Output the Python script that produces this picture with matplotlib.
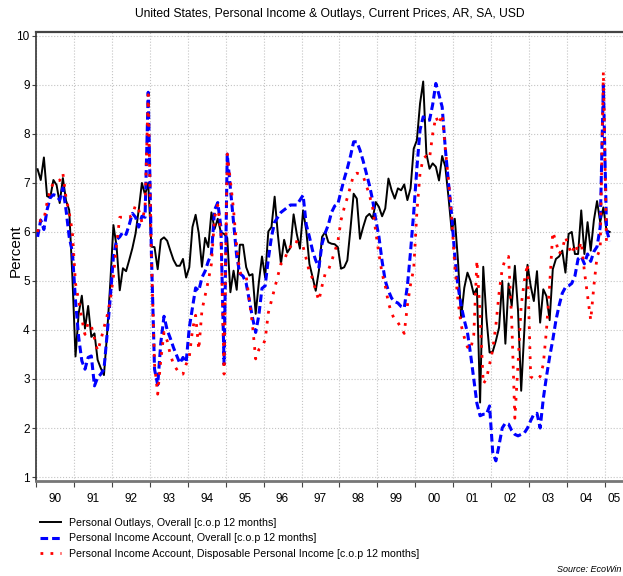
import numpy as np
import matplotlib
matplotlib.use('Agg')
import matplotlib.pyplot as plt

# monthly data, Jan 1990 onwards (% change on same month a year earlier)
start_year = 1990

outlays = [
    7.28, 7.06, 7.52, 6.73, 6.70, 7.06, 6.96, 6.59, 7.10, 6.64, 6.45, 5.10,
    3.46, 4.34, 4.70, 4.03, 4.49, 3.86, 3.93, 3.39, 3.22, 3.08, 3.93, 4.96,
    6.14, 5.70, 4.81, 5.26, 5.20, 5.43, 5.67, 5.97, 6.45, 7.00, 6.76, 7.00,
    5.70, 5.69, 5.24, 5.84, 5.89, 5.82, 5.62, 5.43, 5.31, 5.31, 5.45, 5.07,
    5.28, 6.10, 6.35, 5.97, 5.29, 5.88, 5.69, 6.40, 6.06, 6.27, 5.99, 5.96,
    5.88, 4.77, 5.21, 4.82, 5.74, 5.74, 5.28, 5.11, 5.14, 4.33, 4.97, 5.50,
    5.07, 6.01, 6.10, 6.72, 5.96, 5.35, 5.84, 5.58, 5.68, 6.36, 5.96, 5.66,
    6.44, 6.03, 5.35, 5.08, 4.80, 5.21, 5.90, 6.00, 5.79, 5.76, 5.75, 5.69,
    5.25, 5.28, 5.42, 6.07, 6.78, 6.68, 5.86, 6.10, 6.31, 6.37, 6.27, 6.61,
    6.51, 6.32, 6.48, 7.09, 6.85, 6.68, 6.89, 6.85, 6.97, 6.65, 6.89, 7.70,
    7.87, 8.62, 9.07, 7.60, 7.29, 7.40, 7.33, 7.05, 7.55, 7.33, 6.71, 6.03,
    6.27, 5.42, 4.25, 4.86, 5.17, 5.00, 4.73, 4.85, 2.52, 5.29, 4.25, 3.54,
    3.56, 3.78, 4.05, 5.00, 3.72, 4.95, 4.49, 5.31, 4.40, 2.76, 4.00, 5.33,
    4.90, 4.59, 5.20, 4.15, 4.83, 4.69, 4.20, 5.24, 5.45, 5.50, 5.62, 5.17,
    5.96, 6.00, 5.55, 5.55, 6.44, 5.55, 6.20, 5.62, 6.24, 6.63, 6.20, 6.50,
    6.03, 6.00,
]

income = [
    5.90, 6.24, 6.05, 6.45, 6.70, 6.76, 6.74, 6.65, 6.90, 6.45, 5.90, 5.60,
    4.60, 3.85, 3.37, 3.20, 3.44, 3.47, 2.86, 3.03, 3.10, 3.20, 3.91, 4.66,
    5.50, 5.84, 5.90, 6.00, 5.95, 6.15, 6.38, 6.30, 6.10, 6.32, 6.30, 8.85,
    5.60, 3.20, 2.88, 3.75, 4.28, 4.00, 3.83, 3.64, 3.48, 3.32, 3.44, 3.34,
    4.05, 4.46, 4.86, 4.80, 5.07, 5.20, 5.40, 5.55, 6.45, 6.60, 6.10, 3.30,
    7.59, 6.90, 6.20, 5.50, 5.15, 5.10, 4.95, 4.60, 4.25, 3.95, 4.30, 4.85,
    4.90, 5.45, 5.90, 6.20, 6.30, 6.40, 6.45, 6.50, 6.55, 6.55, 6.55, 6.65,
    6.75, 6.15, 5.90, 5.62, 5.42, 5.28, 5.76, 5.98, 6.15, 6.40, 6.53, 6.57,
    6.83, 7.08, 7.30, 7.55, 7.84, 7.84, 7.67, 7.45, 7.20, 6.95, 6.65, 6.25,
    5.90, 5.40, 5.00, 4.80, 4.65, 4.58, 4.55, 4.48, 4.45, 4.90, 5.60, 6.40,
    7.30, 8.08, 8.35, 8.30, 8.28, 8.60, 9.03, 8.80, 8.55, 7.70, 7.00, 6.35,
    5.50, 4.90, 4.50, 4.20, 3.95, 3.50, 3.00, 2.50, 2.25, 2.28, 2.28, 2.45,
    1.50, 1.33, 1.65, 2.00, 2.10, 2.08, 1.95, 1.87, 1.84, 1.87, 1.90, 2.00,
    2.15, 2.28, 2.30, 2.00, 2.60, 3.05, 3.45, 3.80, 4.20, 4.50, 4.75, 4.87,
    4.90, 4.95, 5.10, 5.45, 5.50, 5.35, 5.55, 5.40, 5.60, 5.70, 6.10, 9.00,
    6.05, 5.81,
]

disposable = [
    6.00, 6.25, 6.25, 6.60, 6.85, 7.00, 7.05, 7.05, 7.20, 6.70, 6.40, 6.00,
    4.95, 4.60, 4.22, 3.91, 4.15, 4.08, 3.83, 3.57, 3.79, 4.05, 4.29, 4.60,
    5.10, 5.75, 6.30, 6.30, 6.30, 6.30, 6.35, 6.55, 6.45, 6.20, 6.50, 8.80,
    5.50, 3.30, 2.69, 3.40, 3.95, 3.78, 3.50, 3.30, 3.20, 3.10, 3.10, 3.30,
    3.45, 4.00, 4.30, 3.60, 4.40, 4.70, 5.00, 5.35, 6.30, 6.55, 6.00, 3.10,
    7.59, 7.05, 6.45, 5.70, 5.16, 5.16, 5.10, 4.60, 4.10, 3.41, 3.60, 3.65,
    3.80, 4.35, 4.60, 4.85, 5.10, 5.35, 5.40, 5.60, 5.70, 5.82, 5.80, 5.75,
    5.70, 5.45, 5.18, 5.05, 4.80, 4.60, 4.90, 5.15, 5.22, 5.40, 5.60, 5.80,
    6.24, 6.49, 6.70, 6.93, 7.17, 7.20, 7.18, 7.14, 6.95, 6.75, 6.50, 6.00,
    5.55, 5.15, 4.90, 4.55, 4.35, 4.20, 4.15, 4.05, 3.93, 4.50, 4.93, 5.25,
    6.40, 7.20, 7.50, 7.55, 7.50, 8.00, 8.35, 8.20, 8.40, 7.70, 7.05, 6.30,
    5.30, 4.60, 4.10, 3.85, 3.65, 3.60, 3.90, 5.42, 4.30, 2.90, 3.00, 3.30,
    3.60, 4.10, 4.75, 5.25, 5.45, 5.50, 4.20, 2.20, 3.30, 4.50, 5.00, 5.35,
    3.05, 3.00, 3.00, 3.05, 3.30, 4.00, 4.90, 6.00, 5.80, 5.55, 5.65, 5.90,
    5.70, 5.55, 5.75, 5.60, 5.80, 5.20, 4.70, 4.20, 4.90, 5.50, 5.65, 9.27,
    5.70,
]

year_labels = ['90', '91', '92', '93', '94', '95', '96', '97', '98', '99',
               '00', '01', '02', '03', '04', '05']
series_names = [
    'Personal Outlays, Overall [c.o.p 12 months]',
    'Personal Income Account, Overall [c.o.p 12 months]',
    'Personal Income Account, Disposable Personal Income [c.o.p 12 months]',
]
title = 'United States, Personal Income & Outlays, Current Prices, AR, SA, USD'

plt.rcParams['font.family'] = ['Liberation Sans Narrow', 'Liberation Sans', 'DejaVu Sans']


def month_axis(vals):
    # points sit in the middle of each month
    return start_year + (np.arange(len(vals)) + 0.5) / 12


W, H = 623, 576
fig = plt.figure(figsize=(W / 100, H / 100), dpi=100)
ax = fig.add_axes([36 / W, 1 - 480.7 / H, 1 - 36 / W, (480.7 - 31.5) / H])

l1, = ax.plot(month_axis(outlays), outlays, color='black', lw=1.4, zorder=3)
l2, = ax.plot(month_axis(income), income, color='#0000ff', lw=2.2,
              linestyle=(0, (2.5, 1.3)), dash_capstyle='butt', zorder=4)
l3, = ax.plot(month_axis(disposable), disposable, color='#ff0000', lw=2.0,
              linestyle=(0, (1, 2.6)), dash_capstyle='butt', zorder=5)

xmax = 2005.476
ax.set_xlim(start_year, xmax)
ax.set_ylim(0.925, 10.09)

years = np.arange(start_year, 2006)
ax.set_xticks(years)
ax.set_xticklabels([])
mids = [y + 0.5 for y in years[:-1]] + [(years[-1] + xmax) / 2]
ax.set_xticks(mids, minor=True)
ax.set_xticklabels(year_labels, minor=True)
ax.tick_params(axis='x', which='major', length=4, width=0.8, color='#444444')
ax.tick_params(axis='x', which='minor', length=0, pad=8.5, labelsize=8.5)

ax.set_yticks(range(1, 11))
ax.tick_params(axis='y', length=3, width=0.8, pad=1.5, labelsize=8.5, color='#444444')

ax.grid(True, which='major', linestyle=':', color='#c4c4c4', lw=0.8)
ax.set_axisbelow(True)

ax.spines['right'].set_visible(False)
ax.spines['left'].set_color('#333333')
ax.spines['left'].set_linewidth(1.2)
ax.spines['top'].set_color('#444444')
ax.spines['top'].set_linewidth(1.6)
ax.spines['bottom'].set_color('#777777')
ax.spines['bottom'].set_linewidth(2.0)

fig.text(330 / W, 1 - 14 / H, title, ha='center', va='center', fontsize=8.7)
fig.text(16 / W, 1 - 251 / H, 'Percent', rotation=90, ha='center', va='center',
         fontsize=11, family='Liberation Sans')

fig.legend([l1, l2, l3], series_names, loc='upper left',
           bbox_to_anchor=(40 / W, 1 - 518 / H), bbox_transform=fig.transFigure,
           frameon=False, fontsize=7.7, handlelength=2.0, handletextpad=0.75,
           labelspacing=0.5, borderpad=0, borderaxespad=0)

fig.text(621 / W, 1 - 569 / H, 'Source: EcoWin', style='italic', fontsize=6.5,
         ha='right', va='center')

fig.savefig('out.png', dpi=100)
